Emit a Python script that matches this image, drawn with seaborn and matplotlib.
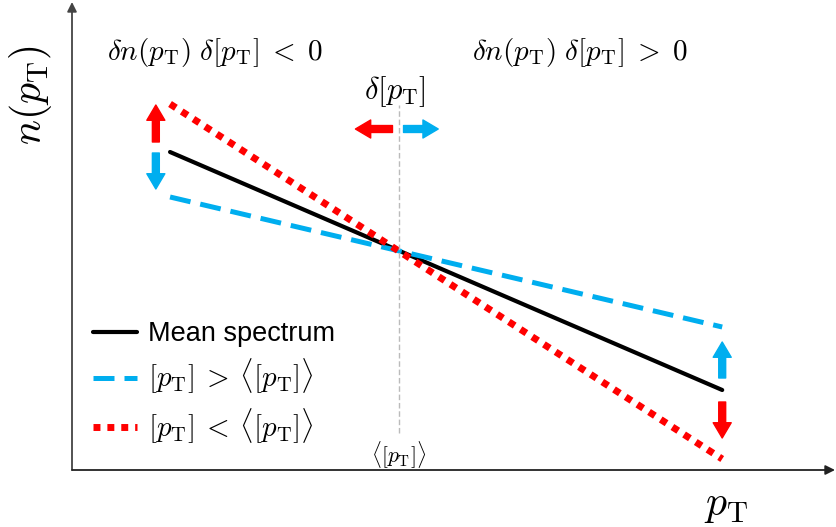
import matplotlib
matplotlib.use("Agg")
import matplotlib.pyplot as plt
import seaborn as sns
import numpy as np

# schematic spectra (arbitrary units)
pt = [1.0, 8.0]
mean_spec = [6.36, 1.60]
high_spec = [5.46, 2.86]
low_spec = [7.32, 0.22]
pt_mean = 3.9

BLUE = "#00aeef"
RED = "#ff0000"

sns.set_theme(style="white")
plt.rcParams["font.family"] = ["Liberation Sans", "DejaVu Sans"]
plt.rcParams["mathtext.fontset"] = "cm"
plt.rcParams["text.color"] = "black"

fig = plt.figure(figsize=(8.37, 5.27), dpi=100)
ax = fig.add_axes([72 / 837, 57 / 527, 763 / 837, 468 / 527])

sns.lineplot(x=pt, y=mean_spec, color="black", lw=3, label="Mean spectrum", ax=ax)
sns.lineplot(x=pt, y=high_spec, color=BLUE, lw=3.6, linestyle="--",
             label=r"$[p_{\mathrm{T}}]\:>\:\langle [p_{\mathrm{T}}] \rangle$", ax=ax)
ax.lines[-1].set_dashes((4.2, 2.0))
sns.lineplot(x=pt, y=low_spec, color=RED, lw=5, linestyle=":",
             label=r"$[p_{\mathrm{T}}]\:<\:\langle [p_{\mathrm{T}}] \rangle$", ax=ax)
ax.lines[-1].set_dashes((1.0, 1.0))
ax.lines[-1].set_dash_capstyle("butt")

ax.set_xlim(-0.243, 9.43)
ax.set_ylim(0, 9.36)
ax.set_xticks([])
ax.set_yticks([])
for s in ax.spines.values():
    s.set_visible(False)

# axis lines with arrow heads
ax.annotate("", xy=(0, 1), xytext=(0, 0), xycoords="axes fraction",
            arrowprops=dict(arrowstyle="-|>", color="#444444", lw=1.3,
                            mutation_scale=14, shrinkA=0, shrinkB=0))
ax.annotate("", xy=(1, 0), xytext=(0, 0), xycoords="axes fraction",
            arrowprops=dict(arrowstyle="-|>", color="#222222", lw=1.3,
                            mutation_scale=14, shrinkA=0, shrinkB=0))

# mean [pT] marker
ax.plot([pt_mean, pt_mean], [0.74, 7.3], color="#bbbbbb", lw=1, dashes=(4, 2))


def arrow(x0, y0, x1, y1, c):
    ax.annotate("", xy=(x1, y1), xytext=(x0, y0),
                arrowprops=dict(arrowstyle="simple,head_length=0.55,head_width=0.65,tail_width=0.25",
                                color=c, mutation_scale=20, shrinkA=0, shrinkB=0))


xl = pt[0] - 0.18
arrow(xl, mean_spec[0] + 0.2, xl, low_spec[0] - 0.02, RED)
arrow(xl, mean_spec[0] - 0.02, xl, high_spec[0] + 0.16, BLUE)
xr = pt[1]
arrow(xr, mean_spec[1] + 0.24, xr, high_spec[1] - 0.3, BLUE)
arrow(xr, mean_spec[1] - 0.24, xr, low_spec[1] + 0.42, RED)
arrow(pt_mean - 0.08, 6.82, pt_mean - 0.55, 6.82, RED)
arrow(pt_mean + 0.06, 6.82, pt_mean + 0.5, 6.82, BLUE)

ax.text(1.57, 8.34, r"$\delta n(p_{\mathrm{T}})\ \delta[p_{\mathrm{T}}]\;<\;0$",
        fontsize=21, ha="center", va="center")
ax.text(6.2, 8.34, r"$\delta n(p_{\mathrm{T}})\ \delta[p_{\mathrm{T}}]\;>\;0$",
        fontsize=21, ha="center", va="center")
ax.text(3.85, 7.56, r"$\delta[p_{\mathrm{T}}]$", fontsize=22, ha="center", va="center")
ax.text(pt_mean, 0.3, r"$\langle [p_{\mathrm{T}}] \rangle$", fontsize=15.5,
        ha="center", va="center")

fig.text(31 / 837, 1 - 95 / 527, r"$n(p_{\mathrm{T}})$", fontsize=30,
         rotation=90, ha="center", va="center")
fig.text(726 / 837, 1 - 505 / 527, r"$p_{\mathrm{T}}$", fontsize=30,
         ha="center", va="center")

leg = ax.legend(loc="upper left", bbox_to_anchor=(93 / 837, 1 - 321 / 527),
                bbox_transform=fig.transFigure, frameon=False, fontsize=19.5,
                handlelength=1.62, handletextpad=0.42, labelspacing=0.38,
                borderpad=0, borderaxespad=0)
for t in leg.get_texts()[1:]:
    t.set_fontsize(21)

fig.savefig("out.png", dpi=100)
